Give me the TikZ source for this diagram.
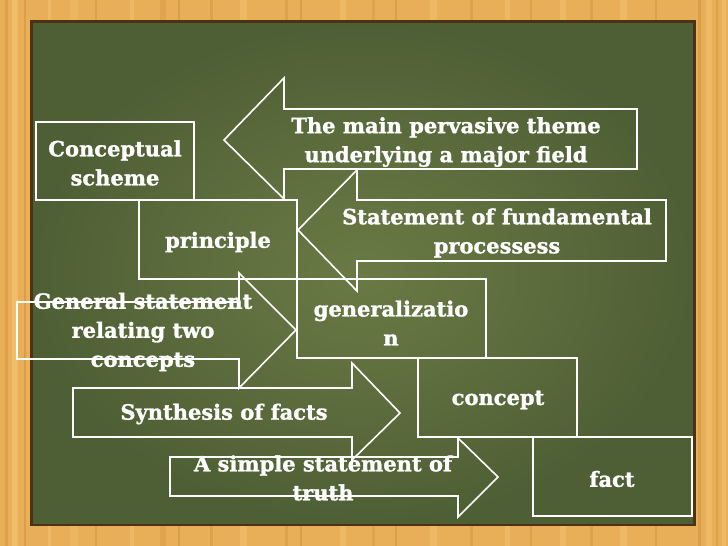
\documentclass[tikz,border=0pt]{standalone}
\usepackage{fontspec}
\setmainfont{DejaVu Serif}
\newfontfamily\labelfont[BoldFeatures={FakeBold=1.3}]{DejaVu Serif}
\definecolor{wood}{HTML}{E8AE58}
\definecolor{wooddark}{HTML}{CF8E38}
\definecolor{woodlight}{HTML}{F6CA78}
\definecolor{boardout}{HTML}{4F5F35}
\definecolor{boardin}{HTML}{6A7A45}
\definecolor{boardrim}{HTML}{4A3212}
\tikzset{
  outl/.style={draw=white, line width=1.6pt, line join=miter},
  lbl/.style={text=white, font=\labelfont\bfseries\fontsize{21}{29}\selectfont, align=center, inner sep=0pt},
}
\begin{document}
\begin{tikzpicture}[x=1pt,y=-1pt]
\useasboundingbox (0,0) rectangle (728,546);
% wooden frame
\fill[wood] (0,0) rectangle (728,546);
\foreach \x/\w/\c/\o in {5/3/wooddark/0.4,12/6/woodlight/0.5,24/2/wooddark/0.5,48/3/woodlight/0.4,70/8/woodlight/0.3,95/2/wooddark/0.4,130/4/woodlight/0.4,160/6/wooddark/0.3,178/2/wooddark/0.5,210/3/wooddark/0.4,240/7/woodlight/0.4,285/3/wooddark/0.35,300/2/wooddark/0.5,340/6/woodlight/0.4,372/3/wooddark/0.3,395/2/wooddark/0.45,430/7/woodlight/0.4,470/3/wooddark/0.35,505/5/woodlight/0.4,530/2/wooddark/0.4,560/6/woodlight/0.4,590/3/wooddark/0.35,620/7/woodlight/0.4,655/2/wooddark/0.4,698/3/wooddark/0.45,706/6/woodlight/0.45,716/2/wooddark/0.4,722/4/woodlight/0.45}
  \fill[\c, opacity=\o] (\x,0) rectangle ++(\w,546);
% board
\fill[boardrim] (30,20) rectangle (696,526);
\shade[inner color=boardin, outer color=boardout] (33,23) rectangle (693,523);
% boxes
\draw[outl] (36,122) rectangle (194,200);
\draw[outl] (139,200) rectangle (297,279);
\draw[outl] (297,279) rectangle (486,358);
\draw[outl] (418,358) rectangle (577,437);
\draw[outl] (533,437) rectangle (692,516);
% arrows
\draw[outl] (637,109) -- (284,109) -- (284,78) -- (224,140) -- (284,199) -- (284,169) -- (637,169) -- cycle;
\draw[outl] (666,200) -- (357,200) -- (357,170) -- (298,230) -- (357,291) -- (357,261) -- (666,261) -- cycle;
\draw[outl] (17,302) -- (239,302) -- (239,273) -- (296,330) -- (239,388) -- (239,359) -- (17,359) -- cycle;
\draw[outl] (73,388) -- (352,388) -- (352,363) -- (400,413) -- (352,460) -- (352,437) -- (73,437) -- cycle;
\draw[outl] (170,457) -- (458,457) -- (458,438) -- (498,477) -- (458,517) -- (458,496) -- (170,496) -- cycle;
% labels
\node[lbl] (scheme) at (115,163) {Conceptual\\scheme};
\node[lbl] (theme) at (446,142) {The main pervasive theme\\underlying a major field};
\node[lbl] (principle) at (218,242) {principle};
\node[lbl] (statement) at (497,233) {Statement of fundamental\\processess};
\node[lbl] (general) at (391,323) {generalizatio\\n};
\node[lbl] (relating) at (143,332) {General statement\\relating two\\concepts};
\node[lbl] (synthesis) at (224,414) {Synthesis of facts};
\node[lbl] (concept) at (498,400) {concept};
\node[lbl] (truth) at (323,478) {A simple statement of\\truth};
\node[lbl] (fact) at (612,479) {fact};
\end{tikzpicture}
\end{document}
